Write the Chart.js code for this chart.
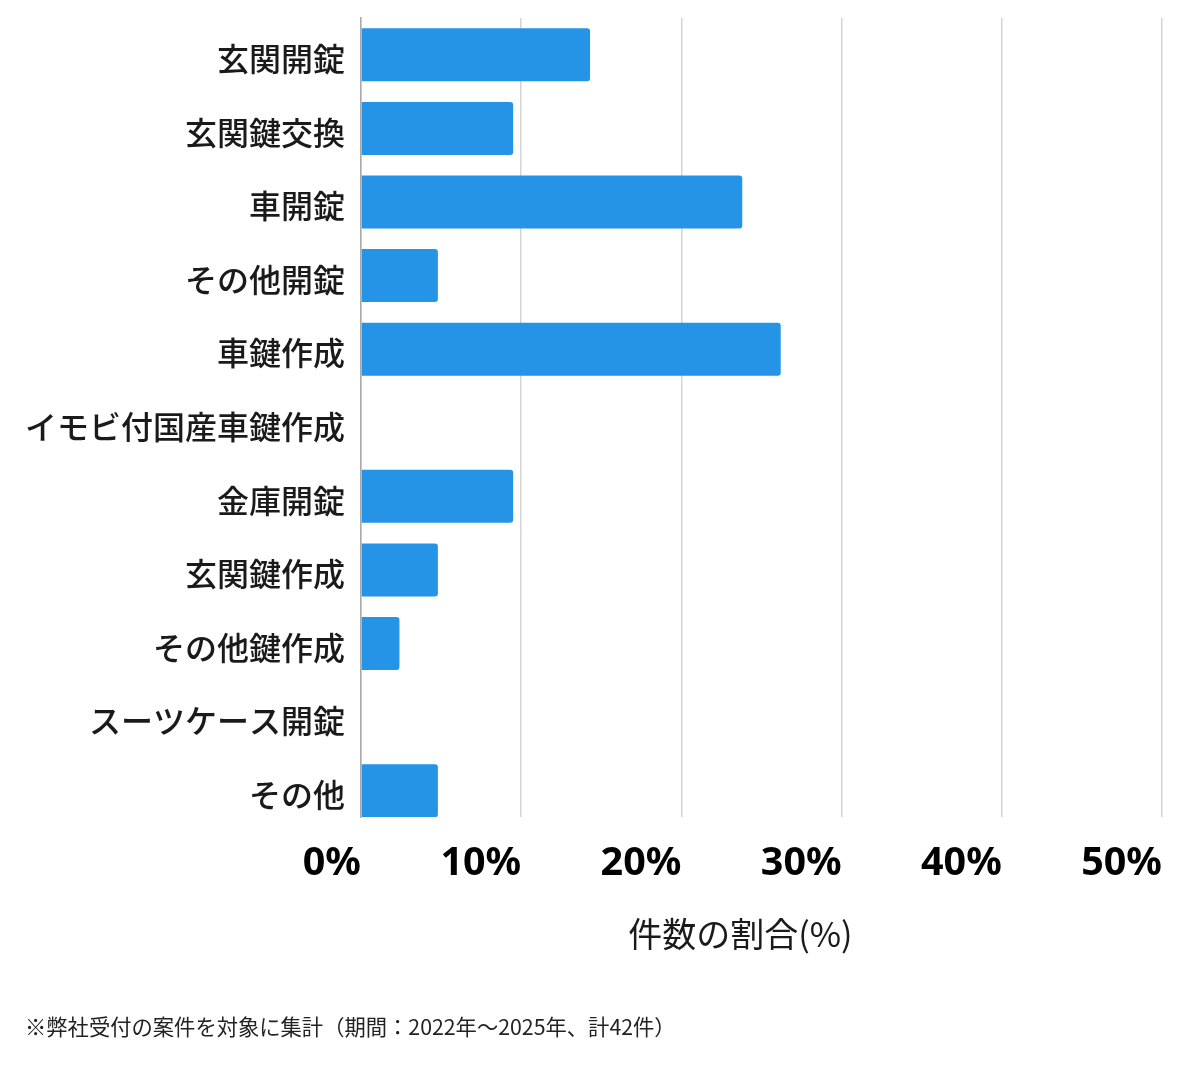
<!DOCTYPE html>
<html><head><meta charset="utf-8">
<script src="https://cdn.jsdelivr.net/npm/chart.js@4"></script>
<style>html,body{margin:0;padding:0;background:#fff;}#wrap{width:1200px;height:1069px;}</style>
</head><body><div id="wrap"><canvas id="c" width="1200" height="1069"></canvas></div>
<script>
const categories = ['玄関開錠','玄関鍵交換','車開錠','その他開錠','車鍵作成','イモビ付国産車鍵作成','金庫開錠','玄関鍵作成','その他鍵作成','スーツケース開錠','その他'];
const shares = [14.3, 9.5, 23.8, 4.8, 26.2, 0, 9.5, 4.8, 2.4, 0, 4.8];
const tickValues = [0, 10, 20, 30, 40, 50];
const axisTitle = '件数の割合(%)';
const footnote = '※弊社受付の案件を対象に集計（期間：2022年～2025年、計42件）';

const TITLE_FONT = { family: '"Noto Sans CJK JP"', size: 34, lineHeight: 1.2 };
const TITLE_PAD_TOP = 26;
const TICK_FONT = { family: '"Noto Sans"', size: 39.5, weight: 'bold' };
const BAR_FRACTION = 0.72; // categoryPercentage 0.8 * barPercentage 0.9

// Draws the x-axis title centred across the span of the tick labels,
// and nudges the category labels slightly below the bar centres.
const axisTitlePlugin = {
  id: 'axisTitlePlugin',
  beforeDraw(chart) {
    chart.scales.y.getLabelItems().forEach(it => { it.textOffset = 4; });
  },
  afterDraw(chart) {
    const s = chart.scales.x, ctx = chart.ctx;
    ctx.save();
    ctx.font = `${TICK_FONT.weight} ${TICK_FONT.size}px ${TICK_FONT.family}`;
    const firstLabel = tickValues[0] + '%';
    const left = s.getPixelForValue(tickValues[0]) - ctx.measureText(firstLabel).width;
    const right = s.getPixelForValue(tickValues[tickValues.length - 1]);
    ctx.font = `${TITLE_FONT.size}px ${TITLE_FONT.family}`;
    ctx.fillStyle = '#1a1a1a';
    ctx.textAlign = 'center';
    ctx.textBaseline = 'middle';
    const lh = TITLE_FONT.size * TITLE_FONT.lineHeight;
    ctx.fillText(axisTitle, (left + right) / 2 + 8, s.bottom - lh / 2);
    ctx.restore();
  }
};

new Chart(document.getElementById('c'), {
  type: 'bar',
  data: { labels: categories, datasets: [{ data: shares, backgroundColor: '#2694E6', borderRadius: 3, borderSkipped: 'start' }] },
  plugins: [axisTitlePlugin],
  options: {
    indexAxis: 'y', responsive: false, animation: false,
    layout: { padding: { top: 18, right: 38, left: 25, bottom: 29 } },
    plugins: {
      legend: { display: false }, tooltip: { enabled: false },
      title: { display: true, text: footnote, position: 'bottom', align: 'start', color: '#222',
        font: { family: '"Noto Sans CJK JP"', size: 21.3, weight: 'normal' }, padding: { top: 60, bottom: 0 } }
    },
    scales: {
      x: {
        min: tickValues[0], max: tickValues[tickValues.length - 1],
        afterBuildTicks: s => { s.ticks = tickValues.map(v => ({ value: v })); },
        ticks: { align: 'end', padding: 23, color: '#000', font: TICK_FONT, callback: v => v + '%' },
        grid: { color: '#d4d4d4', lineWidth: 1.5, drawTicks: false },
        border: { display: false },
        afterFit: s => {
          s.height = s.height - s.options.ticks.padding + TITLE_FONT.size * TITLE_FONT.lineHeight + TITLE_PAD_TOP;
          s.paddingLeft = 0; s.paddingRight = 0;
        }
      },
      y: {
        ticks: { padding: 16, color: '#1a1a1a', font: { family: '"Noto Sans CJK JP"', size: 32, weight: 500 } },
        grid: { display: false, drawTicks: false },
        border: { display: true, color: '#aaaaaa', width: 1.5 },
        // half a band above the first bar; the last bar sits on the bottom of the plot
        afterBuildTicks: s => { s._startValue = s.min - 0.5; s._valueRange = (s.max - s.min) + 0.5 + BAR_FRACTION / 2; },
        afterFit: s => { s.width = s.width - s.options.ticks.padding; s.paddingTop = 0; s.paddingBottom = 0; }
      }
    }
  }
});
</script></body></html>
